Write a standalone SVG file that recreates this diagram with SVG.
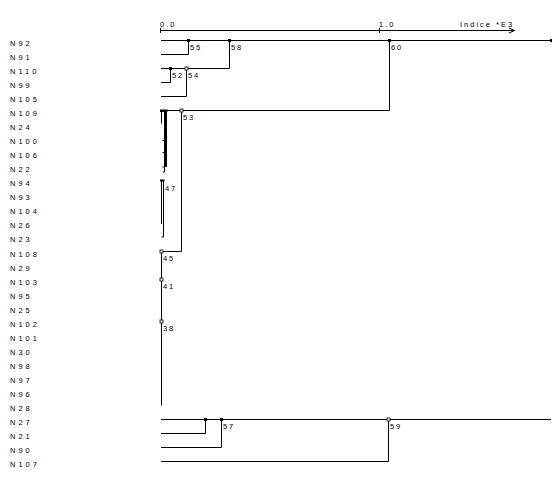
<svg xmlns="http://www.w3.org/2000/svg" width="552" height="493" viewBox="0 0 552 493">
<style>
.bg{fill:#fff}
.ln{fill:none;stroke:#000;stroke-width:1}
.leaf{font-family:"Liberation Sans",Arial,sans-serif;font-size:7.5px;letter-spacing:3px;fill:#000}
.nl{font-family:"Liberation Sans",Arial,sans-serif;font-size:7.5px;letter-spacing:1.8px;fill:#000}
.ax{font-family:"Liberation Sans",Arial,sans-serif;font-size:7.5px;letter-spacing:2px;fill:#000}
.mf{fill:#000}
.mh{fill:#fff;stroke:#000;stroke-width:0.8}
</style>
<rect class="bg" x="0" y="0" width="552" height="493"/>
<g id="axis">
<path class="ln" d="M160 30.5 H514 M160.5 28 V33 M379.5 28 V33 M509 28 L514.5 30.5 L509 33"/>
<text class="ax" x="160" y="26.5">0.0</text>
<text class="ax" x="379" y="26.5">1.0</text>
<text class="ax" x="460" y="26.5">Indice *E3</text>
</g>
<g id="leaves">
<text class="leaf" x="10" y="45.5">N92</text>
<text class="leaf" x="10" y="59.5">N91</text>
<text class="leaf" x="10" y="73.5">N110</text>
<text class="leaf" x="10" y="87.5">N99</text>
<text class="leaf" x="10" y="101.5">N105</text>
<text class="leaf" x="10" y="115.5">N109</text>
<text class="leaf" x="10" y="129.5">N24</text>
<text class="leaf" x="10" y="143.5">N100</text>
<text class="leaf" x="10" y="157.5">N106</text>
<text class="leaf" x="10" y="171.5">N22</text>
<text class="leaf" x="10" y="185.5">N94</text>
<text class="leaf" x="10" y="199.5">N93</text>
<text class="leaf" x="10" y="213.5">N104</text>
<text class="leaf" x="10" y="227.5">N26</text>
<text class="leaf" x="10" y="241.5">N23</text>
<text class="leaf" x="10" y="256.5">N108</text>
<text class="leaf" x="10" y="270.5">N29</text>
<text class="leaf" x="10" y="284.5">N103</text>
<text class="leaf" x="10" y="298.5">N95</text>
<text class="leaf" x="10" y="312.5">N25</text>
<text class="leaf" x="10" y="326.5">N102</text>
<text class="leaf" x="10" y="340.5">N101</text>
<text class="leaf" x="10" y="354.5">N30</text>
<text class="leaf" x="10" y="368.5">N98</text>
<text class="leaf" x="10" y="382.5">N97</text>
<text class="leaf" x="10" y="396.5">N96</text>
<text class="leaf" x="10" y="410.5">N28</text>
<text class="leaf" x="10" y="424.5">N27</text>
<text class="leaf" x="10" y="438.5">N21</text>
<text class="leaf" x="10" y="452.5">N90</text>
<text class="leaf" x="10" y="466.5">N107</text>
</g>
<g id="connectors">
<path class="ln" d="M161 40.5 H551"/>
<path class="ln" d="M161 54.5 H188.5 V40.5"/>
<path class="ln" d="M161 68.5 H229.5 V40.5"/>
<path class="ln" d="M161 82.5 H170.5 V68.5"/>
<path class="ln" d="M161 96.5 H186.5 V68.5"/>
<path class="ln" d="M161 110.5 H389.5 V40.5"/>
<path class="ln" d="M161 251.5 H181.5 V110.5"/>
<path class="ln" d="M161.5 251.5 V405.5"/>
<path class="ln" d="M161 419.5 H551"/>
<path class="ln" d="M161 433.5 H205.5 V419.5"/>
<path class="ln" d="M161 447.5 H221.5 V419.5"/>
<path class="ln" d="M161 461.5 H388.5 V419.5"/>
<rect class="mf" x="160" y="109.5" width="7.5" height="2.5"/>
<rect class="mf" x="164" y="111" width="3" height="56"/>
<path class="ln" d="M161.5 111 V123.5 M162.5 140.5 H164 M162.5 152.5 H164 M162.5 167 H164.5 V172 H163"/>
<rect class="mf" x="160" y="179.5" width="4.5" height="2"/>
<path class="ln" d="M161.5 181 V224 M163.5 181 V237 H161.5"/>
<rect class="mf" x="550" y="39" width="2" height="3"/>
</g>
<g id="node55"><rect class="mf" x="187" y="39" width="3" height="3"/><text class="nl" x="190" y="50">55</text></g>
<g id="node58"><rect class="mf" x="228" y="39" width="3" height="3"/><text class="nl" x="231" y="50">58</text></g>
<g id="node60"><rect class="mf" x="388" y="39" width="3" height="3"/><text class="nl" x="391" y="50">60</text></g>
<g id="node52"><rect class="mf" x="169" y="67" width="3" height="3"/><text class="nl" x="172" y="78">52</text></g>
<g id="node54"><rect class="mh" x="185" y="67" width="3" height="3"/><text class="nl" x="188" y="78">54</text></g>
<g id="node53"><rect class="mh" x="180" y="109" width="3" height="3"/><text class="nl" x="183" y="120">53</text></g>
<g id="node47"><text class="nl" x="165" y="190.5">47</text></g>
<g id="node45"><rect class="mh" x="160" y="250" width="3" height="3"/><text class="nl" x="163" y="261">45</text></g>
<g id="node41"><rect class="mh" x="160" y="278" width="3" height="3"/><text class="nl" x="163" y="289">41</text></g>
<g id="node38"><rect class="mh" x="160" y="320" width="3" height="3"/><text class="nl" x="163" y="331">38</text></g>
<g id="node56"><rect class="mf" x="204" y="418" width="3" height="3"/></g>
<g id="node57"><rect class="mf" x="220" y="418" width="3" height="3"/><text class="nl" x="223" y="429">57</text></g>
<g id="node59"><rect class="mh" x="387" y="418" width="3" height="3"/><text class="nl" x="390" y="429">59</text></g>
</svg>
